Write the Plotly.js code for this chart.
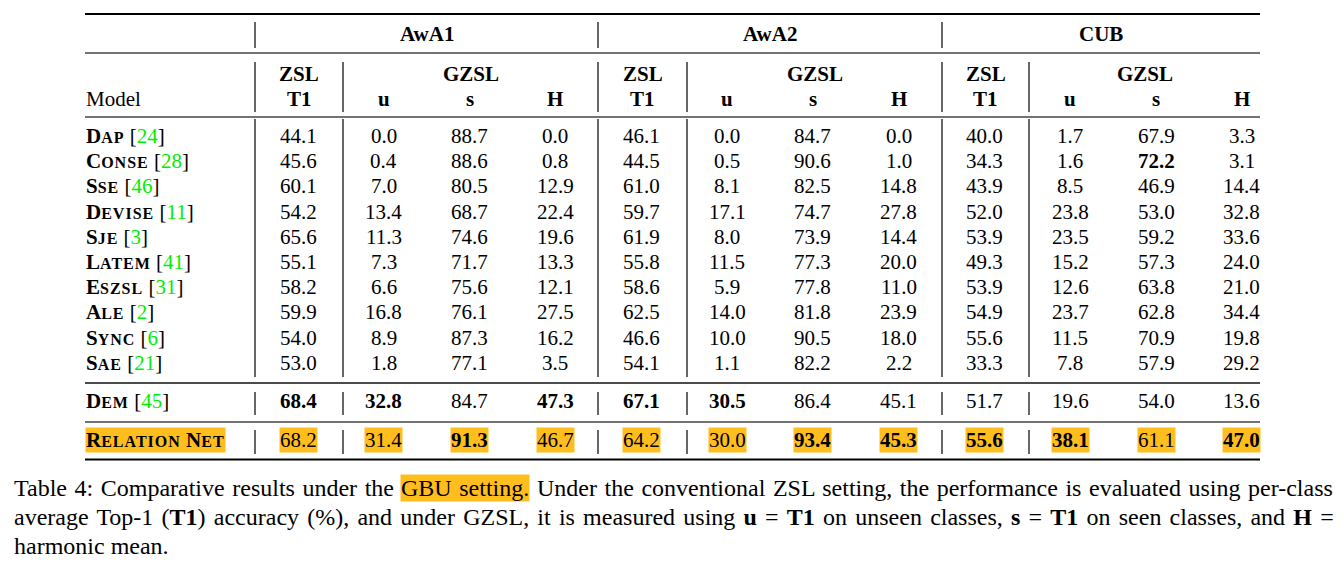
<!DOCTYPE html>
<html>
<head>
<meta charset="utf-8">
<script src="https://cdn.plot.ly/plotly-3.0.1.min.js"></script>
<style>html,body{margin:0;padding:0;background:#fff;}#chart{width:1343px;height:567px;}</style>
</head>
<body>
<div id="chart"></div>
<script>
// ---------------- DATA ----------------
const datasets = ["AwA1", "AwA2", "CUB"];
const metrics = ["T1", "u", "s", "H"];
const models = ["Dap", "Conse", "Sse", "Devise", "Sje", "Latem", "Eszsl", "Ale", "Sync", "Sae", "Dem", "Relation Net"];
const cites = ["24", "28", "46", "11", "3", "41", "31", "2", "6", "21", "45", ""];

const awa1_T1 = [44.1, 45.6, 60.1, 54.2, 65.6, 55.1, 58.2, 59.9, 54.0, 53.0, 68.4, 68.2];
const awa1_u  = [0.0, 0.4, 7.0, 13.4, 11.3, 7.3, 6.6, 16.8, 8.9, 1.8, 32.8, 31.4];
const awa1_s  = [88.7, 88.6, 80.5, 68.7, 74.6, 71.7, 75.6, 76.1, 87.3, 77.1, 84.7, 91.3];
const awa1_H  = [0.0, 0.8, 12.9, 22.4, 19.6, 13.3, 12.1, 27.5, 16.2, 3.5, 47.3, 46.7];

const awa2_T1 = [46.1, 44.5, 61.0, 59.7, 61.9, 55.8, 58.6, 62.5, 46.6, 54.1, 67.1, 64.2];
const awa2_u  = [0.0, 0.5, 8.1, 17.1, 8.0, 11.5, 5.9, 14.0, 10.0, 1.1, 30.5, 30.0];
const awa2_s  = [84.7, 90.6, 82.5, 74.7, 73.9, 77.3, 77.8, 81.8, 90.5, 82.2, 86.4, 93.4];
const awa2_H  = [0.0, 1.0, 14.8, 27.8, 14.4, 20.0, 11.0, 23.9, 18.0, 2.2, 45.1, 45.3];

const cub_T1  = [40.0, 34.3, 43.9, 52.0, 53.9, 49.3, 53.9, 54.9, 55.6, 33.3, 51.7, 55.6];
const cub_u   = [1.7, 1.6, 8.5, 23.8, 23.5, 15.2, 12.6, 23.7, 11.5, 7.8, 19.6, 38.1];
const cub_s   = [67.9, 72.2, 46.9, 53.0, 59.2, 57.3, 63.8, 62.8, 70.9, 57.9, 54.0, 61.1];
const cub_H   = [3.3, 3.1, 14.4, 32.8, 33.6, 24.0, 21.0, 34.4, 19.8, 29.2, 13.6, 47.0];

// bold cells: [row, column]
const boldCells = [[10,0],[10,1],[10,3],[11,2],[10,4],[10,5],[11,6],[11,7],[1,10],[11,8],[11,9],[11,11]];
const highlightRow = 11;

const captionLine1a = "Table 4: Comparative results under the";
const captionHighlight = "GBU setting.";
const captionLine1b = "Under the conventional ZSL setting, the performance is evaluated using per-class";
const captionLine2 = "average Top-1 (<b>T1</b>) accuracy (%), and under GZSL, it is measured using <b>u</b> = <b>T1</b> on unseen classes, <b>s</b> = <b>T1</b> on seen classes, and <b>H</b> =";
const captionLine3 = "harmonic mean.";

// ---------------- LAYOUT / STYLE ----------------
const columns = [awa1_T1, awa1_u, awa1_s, awa1_H, awa2_T1, awa2_u, awa2_s, awa2_H, cub_T1, cub_u, cub_s, cub_H];
const FONT = "Liberation Serif, Times New Roman, serif";
const HL = "#FFBE1E";
const GREEN = "#00ee00";
const FS = 21, SC = 16, CAP = 24;
const W = 1343, H = 567;
const CAP_L = 13, CAP_R = 1333;

// column axis: col index c -> pixel 298 + 85.8*c ; row axis: row r -> pixel 136 + 25.2*r
const colPx = (p) => (p - 298) / 85.8;
const rowPx = (p) => (p - 136) / 25.2;
const xRange = [colPx(0), colPx(W)];
const yRange = [rowPx(H), rowPx(0)];

const seps = [colPx(255), colPx(343), colPx(598), colPx(687), colPx(942), colPx(1029)];
const tableLeft = colPx(85), tableRight = colPx(1260);
const rowPos = [0,1,2,3,4,5,6,7,8,9, rowPx(401), rowPx(440)];
const yGroup = rowPx(34), yZsl = rowPx(74), yMetric = rowPx(99);

function smallCaps(name) {
  return name.split(" ").map(w =>
    w.charAt(0).toUpperCase() + '<span style="font-size:' + SC + 'px;letter-spacing:1px">' + w.slice(1).toUpperCase() + '</span>'
  ).join(" ");
}

const annotations = [];
function addText(x, y, text, opts) {
  annotations.push(Object.assign({
    x: x, y: y, xref: "x", yref: "y", text: text, showarrow: false,
    xanchor: "center", yanchor: "middle",
    font: {family: FONT, size: FS, color: "#000"}, borderpad: 0
  }, opts || {}));
}

// Group headers
const groupSpans = [[seps[0], seps[2]], [seps[2], seps[4]], [seps[4], tableRight]];
datasets.forEach((d, i) => addText((groupSpans[i][0] + groupSpans[i][1]) / 2, yGroup, "<b>" + d + "</b>"));
for (let g = 0; g < 3; g++) {
  const a = seps[2*g], b = seps[2*g+1];
  const c = g < 2 ? seps[2*g+2] : tableRight;
  addText((a + b) / 2, yZsl, "<b>ZSL</b>");
  addText((a + b) / 2, yMetric, "<b>" + metrics[0] + "</b>");
  addText((b + c) / 2, yZsl, "<b>GZSL</b>");
  for (let m = 1; m < 4; m++) addText(4*g + m, yMetric, "<b>" + metrics[m] + "</b>");
}
addText(tableLeft, yMetric, "Model", {xanchor: "left"});

// Model names
models.forEach((m, r) => {
  let t = "<b>" + smallCaps(m) + "</b>";
  if (cites[r]) t += ' [<span style="color:' + GREEN + '">' + cites[r] + '</span>]';
  const o = {xanchor: "left"};
  if (r === highlightRow) o.bgcolor = HL;
  addText(tableLeft, rowPos[r], t, o);
});

// Data cells
const isBold = (r, c) => boldCells.some(b => b[0] === r && b[1] === c);
columns.forEach((col, c) => {
  col.forEach((v, r) => {
    let t = v.toFixed(1);
    if (isBold(r, c)) t = "<b>" + t + "</b>";
    const o = {};
    if (r === highlightRow) o.bgcolor = HL;
    addText(c, rowPos[r], t, o);
  });
});

// ---------------- Caption (justified like LaTeX) ----------------
const cvs = document.createElement("canvas").getContext("2d");
function measure(html) {
  let w = 0;
  const parts = html.split(/(<b>.*?<\/b>)/);
  parts.forEach(p => {
    if (!p) return;
    const bold = p.startsWith("<b>");
    const txt = bold ? p.slice(3, -4) : p;
    cvs.font = (bold ? "bold " : "") + CAP + "px 'Liberation Serif'";
    w += cvs.measureText(txt).width;
  });
  return w;
}
const countSpaces = (s) => (s.replace(/<[^>]+>/g, "").match(/ /g) || []).length;
cvs.font = CAP + "px 'Liberation Serif'";
const SPACE = cvs.measureText(" ").width;

function addCap(xpx, ypx, text, spacing, opts) {
  annotations.push(Object.assign({
    x: xpx / W, y: 1 - ypx / H, xref: "paper", yref: "paper",
    text: '<span style="word-spacing:' + spacing.toFixed(2) + 'px">' + text + '</span>',
    showarrow: false, xanchor: "left", yanchor: "middle",
    font: {family: FONT, size: CAP, color: "#000"}, borderpad: 0
  }, opts || {}));
}
{
  const full = captionLine1a + " " + captionHighlight + " " + captionLine1b;
  const extra = (CAP_R - CAP_L - measure(full)) / countSpaces(full);
  const xA = CAP_L;
  const xB = xA + measure(captionLine1a) + countSpaces(captionLine1a) * extra + SPACE + extra;
  const xC = xB + measure(captionHighlight) + countSpaces(captionHighlight) * extra + SPACE + extra;
  addCap(xA, 488, captionLine1a, extra);
  addCap(xB, 488, captionHighlight, extra, {bgcolor: HL});
  addCap(xC, 488, captionLine1b, extra);
}
{
  const extra = (CAP_R - CAP_L - measure(captionLine2)) / countSpaces(captionLine2);
  addCap(CAP_L, 517, captionLine2, extra);
}
addCap(CAP_L, 546, captionLine3, 0);

// ---------------- Rules ----------------
const shapes = [];
function hline(y, w, color) {
  shapes.push({type: "line", xref: "x", yref: "y", x0: tableLeft, x1: tableRight, y0: y, y1: y,
               line: {color: color, width: w}});
}
function vline(x, y0, y1) {
  shapes.push({type: "line", xref: "x", yref: "y", x0: x, x1: x, y0: y0, y1: y1,
               line: {color: "#000", width: 1.2}});
}
hline(rowPx(14), 2.2, "#000");
hline(rowPx(53), 1.6, "#444");
hline(rowPx(117), 1.6, "#444");
hline(rowPx(383), 1.3, "#111");
hline(rowPx(422), 1.6, "#444");
hline(rowPx(459.5), 1.8, "#000");

[seps[0], seps[2], seps[4]].forEach(x => vline(x, rowPx(22), rowPx(48)));
seps.forEach(x => {
  vline(x, rowPx(62), rowPx(112));
  vline(x, rowPx(119), rowPx(377));
  vline(x, rowPx(392), rowPx(415));
  vline(x, rowPx(430), rowPx(454));
});

const layout = {
  width: W, height: H,
  margin: {l: 0, r: 0, t: 0, b: 0, pad: 0},
  paper_bgcolor: "#fff", plot_bgcolor: "#fff",
  showlegend: false,
  xaxis: {range: xRange, visible: false, fixedrange: true},
  yaxis: {range: yRange, visible: false, fixedrange: true},
  annotations: annotations,
  shapes: shapes
};

Plotly.newPlot("chart", [{x: [], y: [], type: "scatter", mode: "markers", hoverinfo: "skip"}], layout,
  {staticPlot: true, displayModeBar: false});
</script>
</body>
</html>
